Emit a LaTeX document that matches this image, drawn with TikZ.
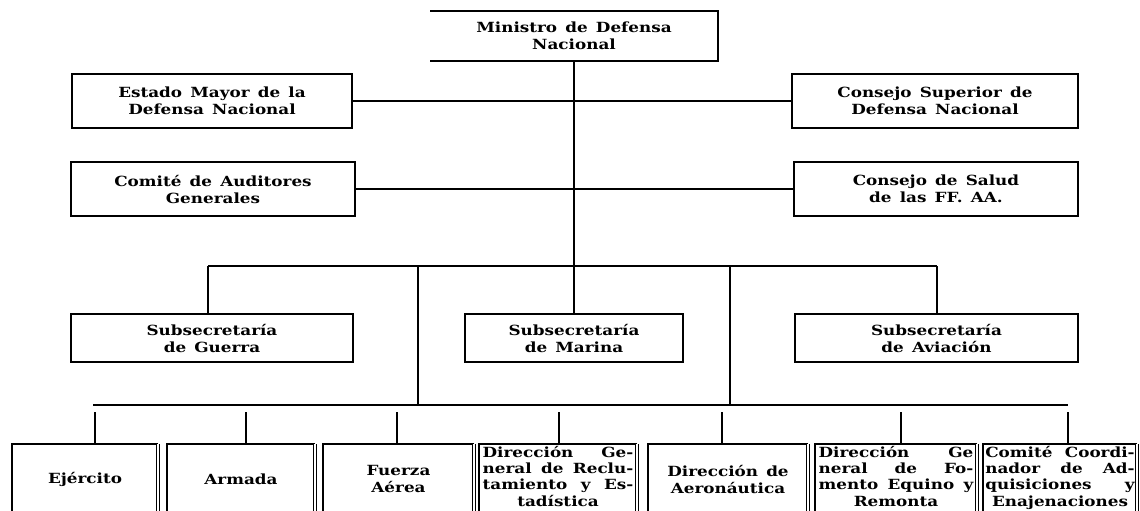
\documentclass[tikz,border=0pt]{standalone}
\usepackage{fontspec}
\setmainfont{DejaVu Serif}[WordSpace=1.4, FakeStretch=1.2]
\begin{document}
\begin{tikzpicture}[x=0.75pt,y=-0.75pt,
  ln/.style={line width=1.4pt},
  dbl/.style={line width=1pt, double=white, double distance=1.3pt},
  txt/.style={font=\bfseries\fontsize{10.5}{12.75}\selectfont},
  box/.style={txt, draw, ln, rectangle, inner sep=0pt, align=center},
  bbox/.style={txt, rectangle, inner sep=0pt, anchor=north, minimum height=52.5pt, align=center},
  jbox/.style={txt, font=\bfseries\fontsize{10.5}{12.1}\selectfont, rectangle, inner xsep=0pt, inner ysep=1.6pt, anchor=north, align=left}]
\useasboundingbox (0,0) rectangle (1140,511);
\fill[white] (0,0) rectangle (1140,511);
\clip (0,0) rectangle (1140,511);
\coordinate (bot) at (0,520);

% top levels
\node[box, draw=none, minimum width=214.5pt, minimum height=36pt] (min) at (574,36) {Ministro de Defensa\\Nacional};
\draw[ln] (min.north west) -- (min.north east) -- (min.south east) -- (min.south west);

\node[box, minimum width=210pt, minimum height=40.5pt] (emdn) at (212,101) {Estado Mayor de la\\Defensa Nacional};
\node[box, minimum width=214.5pt, minimum height=40.5pt] (csdn) at (935,101) {Consejo Superior de\\Defensa Nacional};
\node[box, minimum width=213pt, minimum height=40.5pt] (cag) at (213,189) {Comité de Auditores\\Generales};
\node[box, minimum width=213pt, minimum height=40.5pt] (csal) at (936,189) {Consejo de Salud\\de las FF. AA.};

\node[box, minimum width=211.5pt, minimum height=36pt] (sg) at (212,338) {Subsecretaría\\de Guerra};
\node[box, minimum width=163.5pt, minimum height=36pt] (sm) at (574,338) {Subsecretaría\\de Marina};
\node[box, minimum width=212.25pt, minimum height=36pt] (sa) at (936.5,338) {Subsecretaría\\de Aviación};

% trunk and side links
\draw[ln] (min.south) -- (sm.north);
\draw[ln] (emdn.east) -- (emdn.east -| min.south);
\draw[ln] (csdn.west) -- (csdn.west -| min.south);
\draw[ln] (cag.east) -- (cag.east -| min.south);
\draw[ln] (csal.west) -- (csal.west -| min.south);

% first bar
\coordinate (b1l) at (208,266);
\coordinate (b1r) at (937,266);
\draw[ln] (b1l) -- (b1r);
\draw[ln] (b1l) -- (b1l |- sg.north);
\draw[ln] (b1r) -- (b1r |- sa.north);

% second bar
\coordinate (d1) at (418,266);
\coordinate (d2) at (730,266);
\coordinate (b2l) at (93,405);
\coordinate (b2r) at (1068,405);
\draw[ln] (d1) -- (d1 |- b2l);
\draw[ln] (d2) -- (d2 |- b2l);
\draw[ln] (b2l) -- (b2r);

% bottom boxes
\node[bbox, minimum width=109.5pt] (ej) at (85,444) {Ejército};
\node[bbox, minimum width=111pt] (ar) at (241,444) {Armada};
\node[bbox, minimum width=113.25pt] (fa) at (398.5,444) {Fuerza\\Aérea};
\node[jbox, minimum width=118.5pt, text width=113pt] (dgr) at (558,444)
  {Dirección\hfill Ge-\\neral\hfill de\hfill Reclu-\\tamiento\hfill y\hfill Es-\\\hspace*{\fill}tadística\hspace*{\fill}\null};
\node[bbox, minimum width=120pt] (da) at (728,444) {Dirección de\\Aeronáutica};
\node[jbox, minimum width=121.5pt, text width=116pt] (dgf) at (896,444)
  {Dirección\hfill Ge\\neral\hfill de\hfill Fo-\\mento\hfill Equino\hfill y\\\hspace*{\fill}Remonta\hspace*{\fill}\null};
\node[jbox, minimum width=115.5pt, text width=112pt] (cc) at (1060,444)
  {Comité\hfill Coordi-\\nador\hfill de\hfill Ad-\\quisiciones\hfill y\\\hspace*{\fill}Enajenaciones\hspace*{\fill}\null};

\foreach \n in {ej,ar,fa,dgr,da,dgf,cc}{
  \draw[ln] (\n.north west |- bot) -- (\n.north west) -- (\n.north east);
  \draw[dbl] (\n.north east) -- (\n.north east |- bot);
}

\foreach \x/\n in {95/ej,246/ar,397/fa,559/dgr,722/da,901/dgf,1068/cc}{
  \coordinate (t\n) at (\x,412);
  \draw[ln] (t\n) -- (t\n |- \n.north);
}
\end{tikzpicture}
\end{document}
